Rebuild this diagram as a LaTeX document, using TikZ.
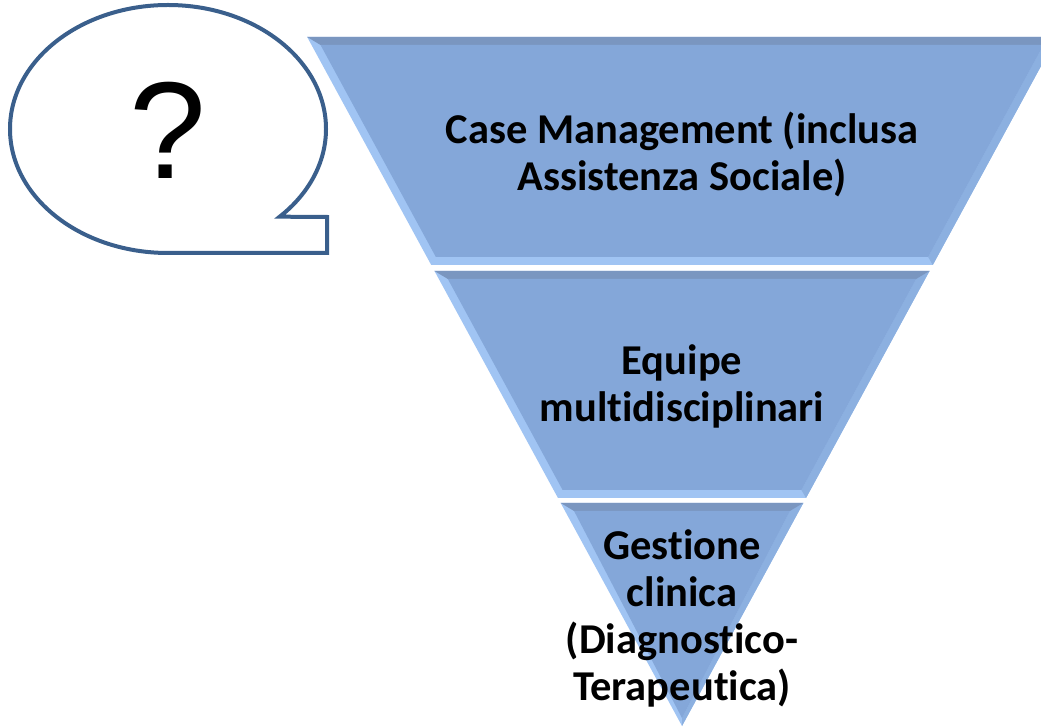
\documentclass[tikz,border=0pt]{standalone}
\usepackage{fontspec}
\setmainfont{Carlito}[Ligatures=NoCommon]
\newfontfamily\qfont{Liberation Sans}
\usepackage{tikz}
\definecolor{myblue}{RGB}{132,167,217}
\definecolor{mylight}{RGB}{160,196,243}
\definecolor{myshade}{RGB}{140,176,224}
\definecolor{mydark}{RGB}{122,150,192}
\definecolor{myline}{RGB}{58,95,140}

\begin{document}
\begin{tikzpicture}[x=1pt, y=1pt,
    lbl/.style = {align=center, inner sep=0pt, font=\fontsize{42.5}{47}\selectfont\bfseries},
    th/.style = {line width = 4pt, color=myline}]
  \useasboundingbox (0,0) rectangle (1041,726);
  \clip (0,0) rectangle (1041,726);
  % funnel bands
  \foreach \lo/\hi in {461/689, 228/455, 0/223}{
    \pgfmathsetmacro\wlo{0.544*\lo}
    \pgfmathsetmacro\whi{0.544*\hi}
    \pgfmathsetmacro\wti{0.544*(\hi-8)-9}
    \pgfmathsetmacro\wbi{max(0.544*(\lo+8)-9,0)}
    \fill[mylight] (682-\whi,\hi) -- (682+\whi,\hi) -- (682+\wlo,\lo) -- (682-\wlo,\lo) -- cycle;
    \fill[myshade] (682+\whi,\hi) -- (682+\wlo,\lo) -- (682+\wbi,\lo+8) -- (682+\wti,\hi-8) -- cycle;
    \fill[mydark] (682-\whi,\hi) -- (682+\whi,\hi) -- (682+\wti,\hi-8) -- (682-\wti,\hi-8) -- cycle;
    \fill[myblue] (682-\wti,\hi-8) -- (682+\wti,\hi-8) -- (682+\wbi,\lo+8) -- (682-\wbi,\lo+8) -- cycle;
  }
  \node[lbl] (casemgmt) at (682,572) {Case Management (inclusa\\Assistenza Sociale)};
  \node[lbl] (equipe) at (682,340) {Equipe\\multidisciplinari};
  \node[lbl] (gestione) at (682,108) {Gestione\\clinica\\(Diagnostico-\\Terapeutica)};
  % speech bubble
  \draw[th, fill=white] (168,473) arc[start angle=270, end angle=-45, x radius=158, y radius=124]
    -- (327,509) -- (327,473) -- cycle;
  \node[inner sep=0pt, font=\qfont\fontsize{138}{140}\selectfont] (quest) at (168,596) {?};
\end{tikzpicture}
\end{document}
